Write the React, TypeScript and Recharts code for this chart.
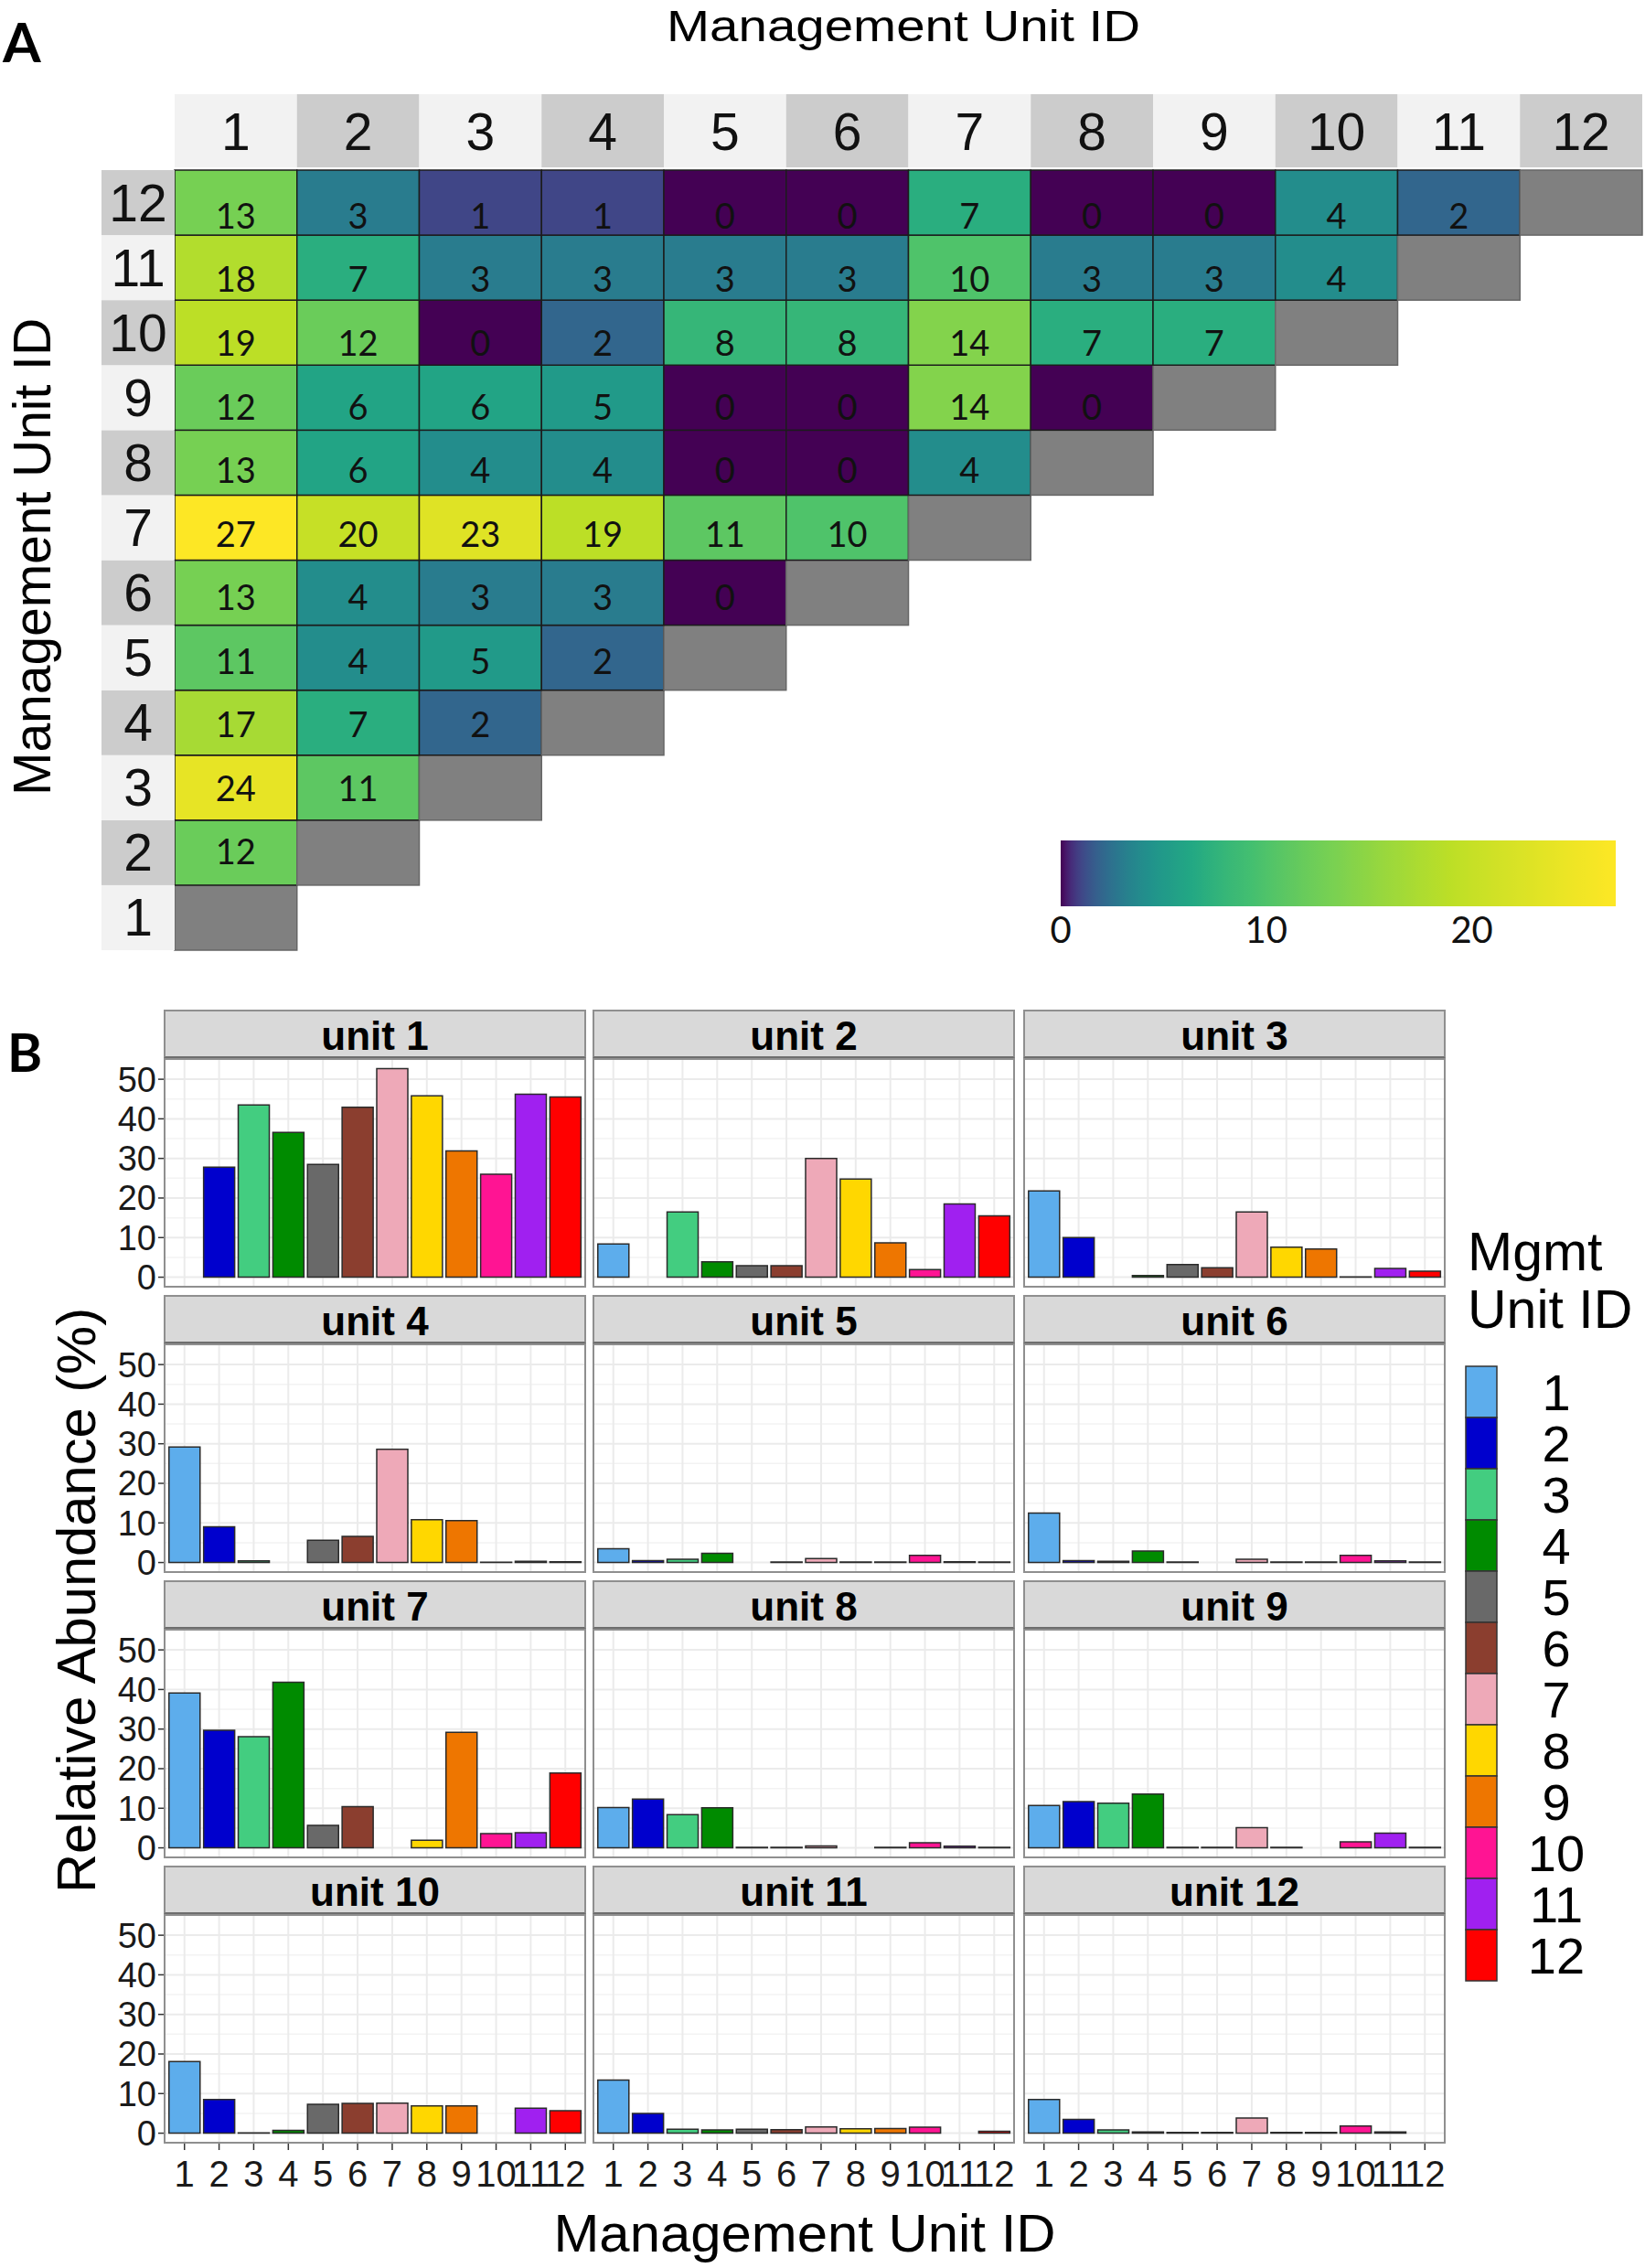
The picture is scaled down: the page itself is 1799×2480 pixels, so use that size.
import React from 'react';
import { Bar, BarChart, CartesianGrid, Cell, Scatter, ScatterChart, XAxis, YAxis } from 'recharts';

const units = [1, 2, 3, 4, 5, 6, 7, 8, 9, 10, 11, 12];
const unitColors = ['#5DADEC', '#0000CD', '#43CD80', '#008B00', '#696969', '#8B3E2F', '#EEA9B8', '#FFD700', '#EE7600', '#FF1493', '#A020F0', '#FF0000'];

// panel A: shared counts, row unit vs column unit (columns 1..row-1)
const row2 = [12];
const row3 = [24, 11];
const row4 = [17, 7, 2];
const row5 = [11, 4, 5, 2];
const row6 = [13, 4, 3, 3, 0];
const row7 = [27, 20, 23, 19, 11, 10];
const row8 = [13, 6, 4, 4, 0, 0, 4];
const row9 = [12, 6, 6, 5, 0, 0, 14, 0];
const row10 = [19, 12, 0, 2, 8, 8, 14, 7, 7];
const row11 = [18, 7, 3, 3, 3, 3, 10, 3, 3, 4];
const row12 = [13, 3, 1, 1, 0, 0, 7, 0, 0, 4, 2];
const colorbarTicks = [0, 10, 20];
const colorbarMax = 27;

// panel B: relative abundance (%) per unit, null = the unit itself
const unit1 = [null, 27.8, 43.5, 36.6, 28.5, 42.9, 52.7, 45.8, 31.9, 26.0, 46.2, 45.5];
const unit2 = [8.4, null, 16.5, 3.9, 2.9, 2.9, 30.0, 24.8, 8.7, 1.9, 18.5, 15.5];
const unit3 = [21.8, 10.0, null, 0.4, 3.2, 2.4, 16.5, 7.6, 7.1, 0.1, 2.2, 1.5];
const unit4 = [29.2, 9.0, 0.4, null, 5.6, 6.6, 28.6, 10.8, 10.6, 0.1, 0.3, 0.2];
const unit5 = [3.5, 0.5, 0.8, 2.3, null, 0.15, 1.0, 0.15, 0.15, 1.8, 0.2, 0.15];
const unit6 = [12.5, 0.5, 0.3, 2.9, 0.15, null, 0.8, 0.15, 0.15, 1.8, 0.4, 0.15];
const unit7 = [39.1, 29.7, 28.1, 41.8, 5.7, 10.4, null, 1.9, 29.2, 3.6, 3.8, 18.9];
const unit8 = [10.2, 12.3, 8.4, 10.1, 0.15, 0.15, 0.5, null, 0.15, 1.3, 0.4, 0.15];
const unit9 = [10.7, 11.7, 11.3, 13.6, 0.15, 0.15, 5.1, 0.15, null, 1.5, 3.7, 0.15];
const unit10 = [18.1, 8.5, 0.1, 0.7, 7.3, 7.5, 7.6, 6.9, 6.9, null, 6.3, 5.7];
const unit11 = [13.4, 5.0, 1.0, 0.85, 1.0, 0.9, 1.6, 1.1, 1.2, 1.5, null, 0.5];
const unit12 = [8.5, 3.5, 0.8, 0.3, 0.2, 0.2, 3.8, 0.2, 0.2, 1.8, 0.3, null];
const yTicks = [0, 10, 20, 30, 40, 50];
const yMinor = [5, 15, 25, 35, 45, 55];

const facets = [unit1, unit2, unit3, unit4, unit5, unit6, unit7, unit8, unit9, unit10, unit11, unit12];
const rows = [[], row2, row3, row4, row5, row6, row7, row8, row9, row10, row11, row12];

const heatCells: { col: number; row: number; v: number | null }[] = [];
rows.forEach((vals, i) => {
  const row = i + 1;
  vals.forEach((v, j) => heatCells.push({ col: j + 1, row, v }));
  heatCells.push({ col: row, row, v: null });
});

const VIRIDIS = ['#440154', '#482475', '#414487', '#355F8D', '#2A788E', '#21918C', '#22A884', '#44BF70', '#7AD151', '#BDDF26', '#FDE725'];
const hex = (h: string) => [1, 3, 5].map((i) => parseInt(h.slice(i, i + 2), 16));
function viridis(t: number) {
  const p = Math.max(0, Math.min(1, t)) * (VIRIDIS.length - 1);
  const i = Math.min(Math.floor(p), VIRIDIS.length - 2);
  const f = p - i;
  const a = hex(VIRIDIS[i]);
  const b = hex(VIRIDIS[i + 1]);
  return `rgb(${a.map((c, k) => Math.round(c + (b[k] - c) * f)).join(',')})`;
}
// log1p colour scale
const colorOf = (v: number) => viridis(Math.log1p(v) / Math.log1p(colorbarMax));
const gradStops: number[] = [];
for (let s = 0; s <= colorbarMax * 4; s++) gradStops.push(s / 4);

const SANS = "'Liberation Sans', Arial, sans-serif";
const HUMAN = "Lato, 'Open Sans', sans-serif";

// heatmap geometry
const HM = { left: 191, right: 1796, top: 186, bottom: 1039 };
const cellW = (HM.right - HM.left) / 12;
const cellH = (HM.bottom - HM.top) / 12;

const ColHeader = (props: any) => {
  const { x, payload } = props;
  const v = payload.value;
  return (
    <g>
      <rect x={x - cellW / 2} y={103} width={cellW} height={80} fill={v % 2 ? '#F2F2F2' : '#CCCCCC'} />
      <text x={x} y={164} textAnchor="middle" fontSize={57} fontFamily={SANS} fill="#111">{v}</text>
    </g>
  );
};

const RowHeader = (props: any) => {
  const { y, payload } = props;
  const v = payload.value;
  return (
    <g>
      <rect x={111} y={y - cellH / 2} width={80} height={cellH} fill={v % 2 ? '#F2F2F2' : '#CCCCCC'} />
      <text x={151} y={y + 20} textAnchor="middle" fontSize={57} fontFamily={SANS} fill="#111">{v}</text>
    </g>
  );
};

const HeatCell = (props: any) => {
  const { cx, cy, payload } = props;
  const empty = payload.v == null;
  return (
    <g>
      <rect
        x={cx - cellW / 2}
        y={cy - cellH / 2}
        width={cellW}
        height={cellH}
        fill={empty ? '#808080' : colorOf(payload.v)}
        stroke={empty ? '#666' : '#1c1c1c'}
        strokeWidth={1.5}
      />
      {!empty && (
        <text x={cx} y={cy + 13.5 + 1.55 * (payload.row - 2.4)} textAnchor="middle" fontSize={38} fontFamily={HUMAN} fill="#111">
          {payload.v}
        </text>
      )}
    </g>
  );
};

const PANEL_W = 462;
const PANEL_H = 251;
const STRIP_H = 53;
const colLefts = [179, 648, 1119];
const rowTops = [1104, 1416, 1728, 2040];
const EXTRA = 16;

function Facet({ idx }: { idx: number }) {
  const col = idx % 3;
  const row = Math.floor(idx / 3);
  const left = colLefts[col];
  const top = rowTops[row];
  const showY = col === 0;
  const showX = row === 3;
  const yw = 70;
  const xh = 60;
  const data = units.map((u, i) => ({ id: u, value: facets[idx][i] }));
  return (
    <>
      <div
        style={{
          position: 'absolute', left, top, width: PANEL_W, height: STRIP_H,
          background: '#D9D9D9', border: '2px solid #8f8f8f', borderBottomColor: '#6e6e6e', boxSizing: 'border-box',
        }}
      />
      <div style={{ position: 'absolute', left: left - (showY ? yw : 0), top: top + STRIP_H }}>
        <BarChart
          width={PANEL_W + (showY ? yw : 0)}
          height={PANEL_H + (showX ? xh : EXTRA)}
          data={data}
          margin={{ top: 0, right: 0, bottom: showX ? 0 : EXTRA, left: 0 }}
        >
          <CartesianGrid horizontalValues={yMinor} vertical={false} stroke="#F3F3F3" strokeWidth={1.5} />
          <CartesianGrid horizontalValues={yTicks} verticalValues={units} stroke="#EBEBEB" strokeWidth={2} />
          <XAxis
            dataKey="id"
            type="number"
            domain={[0.4, 12.6]}
            ticks={units}
            interval={0}
            allowDataOverflow
            hide={!showX}
            height={xh}
            axisLine={false}
            tickLine={{ stroke: '#333', strokeWidth: 1.5 }}
            tickSize={7}
            tickMargin={12}
            tick={{ fontSize: 40, fill: '#1a1a1a' }}
          />
          <YAxis
            type="number"
            domain={[-2.64, 55.34]}
            ticks={yTicks}
            interval={0}
            allowDataOverflow
            hide={!showY}
            width={yw}
            axisLine={false}
            tickLine={{ stroke: '#333', strokeWidth: 1.5 }}
            tickSize={6}
            tickMargin={2}
            tick={{ fontSize: 38, fill: '#1a1a1a' }}
          />
          <Bar dataKey="value" barSize={34} stroke="#2b2b2b" strokeWidth={1.5} isAnimationActive={false}>
            {data.map((d, i) => (
              <Cell key={d.id} fill={unitColors[i]} />
            ))}
          </Bar>
        </BarChart>
      </div>
      <div
        style={{
          position: 'absolute', left, top: top + STRIP_H, width: PANEL_W, height: PANEL_H,
          border: '2px solid #8f8f8f', boxSizing: 'border-box', pointerEvents: 'none',
        }}
      />
    </>
  );
}

export default function App() {
  return (
    <div style={{ position: 'absolute', left: 0, top: 0, width: 1799, height: 2480, background: '#fff', fontFamily: SANS, overflow: 'hidden' }}>
      <svg width={1799} height={2480} style={{ position: 'absolute', left: 0, top: 0 }}>
        <text x={3} y={68} fontSize={60} fontWeight="bold" fontFamily={HUMAN} fill="#000">A</text>
        <text x={8} y={1172} fontSize={58} fontWeight="bold" fontFamily={HUMAN} fill="#000">B</text>
        <text x={988} y={45} textAnchor="middle" fontSize={48} textLength={518} lengthAdjust="spacingAndGlyphs" fill="#000">
          Management Unit ID
        </text>
        <text x={55} y={609} transform="rotate(-90, 55, 609)" textAnchor="middle" fontSize={57} textLength={522} lengthAdjust="spacingAndGlyphs" fill="#000">
          Management Unit ID
        </text>
        <text x={880} y={2462} textAnchor="middle" fontSize={58} textLength={549} lengthAdjust="spacingAndGlyphs" fill="#000">
          Management Unit ID
        </text>
        <text x={104} y={1750} transform="rotate(-90, 104, 1750)" textAnchor="middle" fontSize={59} textLength={640} lengthAdjust="spacingAndGlyphs" fill="#000">
          Relative Abundance (%)
        </text>
        <text x={1605} y={1389} fontSize={59} fill="#000">Mgmt</text>
        <text x={1605} y={1452} fontSize={59} fill="#000">Unit ID</text>
        {units.map((u, i) => (
          <g key={u}>
            <rect x={1603} y={1494 + i * 56} width={34} height={56} fill={unitColors[i]} stroke="#333" strokeWidth={1.5} />
            <text x={1702} y={1494 + i * 56 + 48} textAnchor="middle" fontSize={56} fill="#000">{u}</text>
          </g>
        ))}
      </svg>

      <div style={{ position: 'absolute', left: 0, top: 0 }}>
        <ScatterChart width={1799} height={1060} margin={{ top: 103, right: 3, bottom: 21, left: 111 }}>
          <XAxis
            dataKey="col"
            type="number"
            orientation="top"
            domain={[0.5, 12.5]}
            ticks={units}
            interval={0}
            height={83}
            axisLine={false}
            tickLine={false}
            tick={<ColHeader />}
          />
          <YAxis
            dataKey="row"
            type="number"
            domain={[0.5, 12.5]}
            ticks={units}
            interval={0}
            width={80}
            axisLine={false}
            tickLine={false}
            tick={<RowHeader />}
          />
          <Scatter data={heatCells} shape={<HeatCell />} isAnimationActive={false} />
        </ScatterChart>
      </div>

      <div style={{ position: 'absolute', left: 1120, top: 900 }}>
        <BarChart
          width={670}
          height={140}
          layout="vertical"
          data={[{ name: 'scale', value: colorbarMax }]}
          margin={{ top: 15, right: 23, bottom: 0, left: 40 }}
        >
          <defs>
            <linearGradient id="viridisBar" x1="0" y1="0" x2="1" y2="0">
              {gradStops.map((v) => (
                <stop key={v} offset={v / colorbarMax} stopColor={colorOf(v)} />
              ))}
            </linearGradient>
          </defs>
          <XAxis
            type="number"
            domain={[0, colorbarMax]}
            ticks={colorbarTicks}
            interval={0}
            height={45}
            axisLine={false}
            tickLine={false}
            tick={{ fontSize: 40, fill: '#111', fontFamily: HUMAN }}
          />
          <YAxis type="category" dataKey="name" hide />
          <Bar dataKey="value" fill="url(#viridisBar)" barSize={80} isAnimationActive={false} />
        </BarChart>
      </div>

      {facets.map((_, i) => (
        <Facet key={i} idx={i} />
      ))}

      <svg width={1799} height={2480} style={{ position: 'absolute', left: 0, top: 0, pointerEvents: 'none' }}>
        {facets.map((_, i) => (
          <text
            key={i}
            x={colLefts[i % 3] + PANEL_W / 2}
            y={rowTops[Math.floor(i / 3)] + 44}
            textAnchor="middle"
            fontSize={44}
            fontWeight="bold"
            fontFamily={SANS}
            fill="#000"
          >
            unit {i + 1}
          </text>
        ))}
      </svg>
    </div>
  );
}
